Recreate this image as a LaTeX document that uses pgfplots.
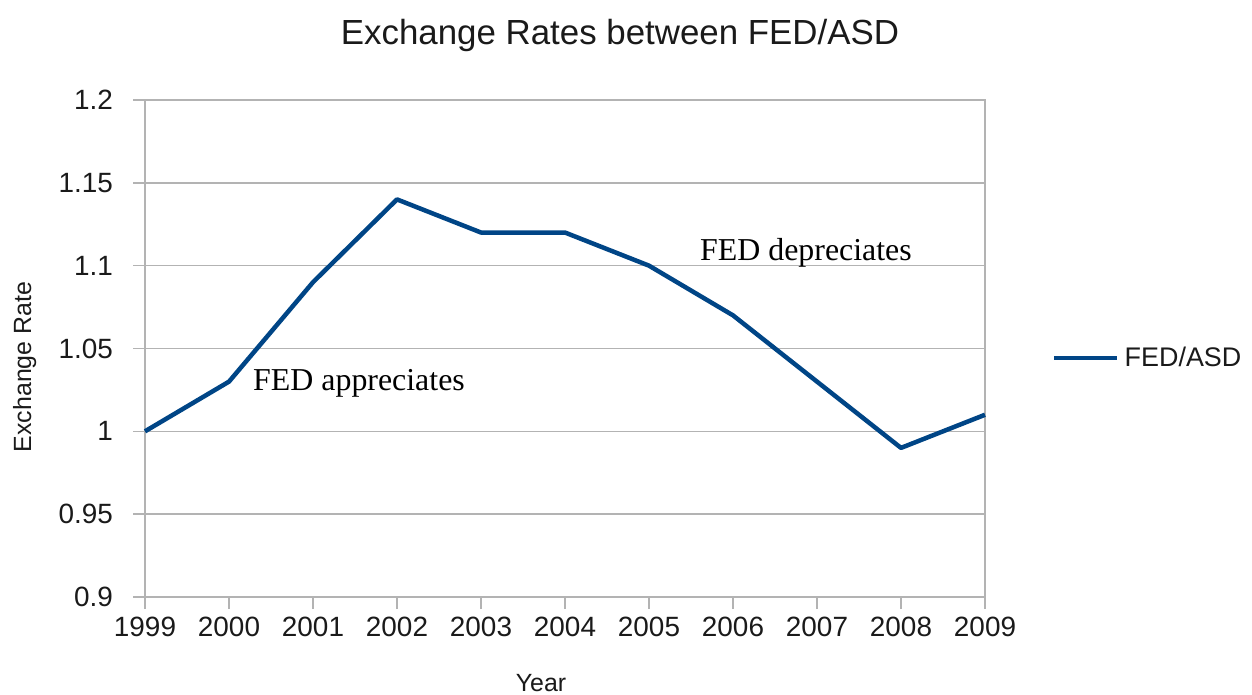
\documentclass[border=0pt]{standalone}
\usepackage{pgfplots}
\pgfplotsset{compat=1.18}
\usepackage{fontspec}
\setmainfont{Liberation Sans}
\newfontfamily\timesf{Liberation Serif}
\definecolor{series}{HTML}{004586}
\definecolor{gridgray}{HTML}{B3B3B3}
\definecolor{txt}{HTML}{1A1A1A}
\begin{document}
\begin{tikzpicture}
\path[use as bounding box] (0bp,0bp) rectangle (1252bp,695bp);
\begin{axis}[
  at={(145bp,98bp)}, anchor=south west,
  scale only axis, width=840bp, height=497bp,
  xmin=1999, xmax=2009, ymin=0.9, ymax=1.2,
  xtick={1999,2000,2001,2002,2003,2004,2005,2006,2007,2008,2009},
  xticklabels={1999,2000,2001,2002,2003,2004,2005,2006,2007,2008,2009},
  ytick={0.9,0.95,1,1.05,1.1,1.15,1.2},
  yticklabels={0.9,0.95,1,1.05,1.1,1.15,1.2},
  xtick pos=bottom, ytick pos=left,
  tick align=outside, major tick length=12bp,
  tick style={gridgray, line width=1.5bp},
  ymajorgrids, major grid style={gridgray, line width=1.5bp},
  axis line style={gridgray, line width=1.5bp},
  ticklabel style={font=\fontsize{28}{33}\selectfont, text=txt},
  yticklabel style={inner sep=0pt, xshift=-20bp},
  xticklabel style={inner sep=0pt, yshift=-8bp},
  title={Exchange Rates between FED/ASD},
  title style={at={(0.5655,1.1006)}, anchor=base, inner sep=0pt, font=\fontsize{35}{41}\selectfont, text=txt},
  xlabel={Year},
  xlabel style={at={(0.4714,-0.191)}, anchor=base, inner sep=0pt, font=\fontsize{25}{30}\selectfont, text=txt},
  ylabel={Exchange Rate},
  ylabel style={at={(-0.1357,0.4628)}, anchor=base, rotate=0, inner sep=0pt, font=\fontsize{25}{30}\selectfont, text=txt},
  legend style={at={(1.0798,0.481)}, anchor=west, draw=none, fill=none, inner sep=0pt,
    font=\fontsize{27}{32}\selectfont, text=txt,
    nodes={inner xsep=5bp, inner ysep=0pt}},
  legend image code/.code={\draw[#1] (0bp,0bp) -- (63bp,0bp);},
  clip=false,
]
\addplot[series, line width=4.5bp, line join=round] coordinates {
  (1999,1.00) (2000,1.03) (2001,1.09) (2002,1.14) (2003,1.12) (2004,1.12)
  (2005,1.10) (2006,1.07) (2007,1.03) (2008,0.99) (2009,1.01)
};
\addlegendentry{FED/ASD}
\node[anchor=base west, inner sep=0pt, font=\timesf\fontsize{32}{38}\selectfont, text=black] at (axis cs:2000.286,1.0249) {FED appreciates};
\node[anchor=base west, inner sep=0pt, font=\timesf\fontsize{32}{38}\selectfont, text=black] at (axis cs:2005.607,1.1034) {FED depreciates};
\end{axis}
\end{tikzpicture}
\end{document}
